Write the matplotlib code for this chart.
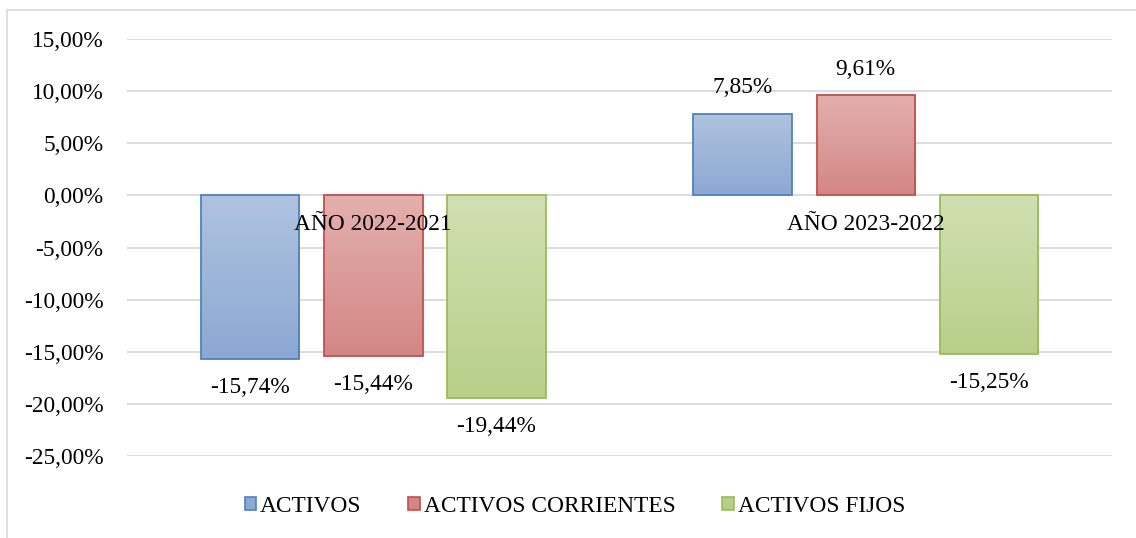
import numpy as np
import matplotlib.pyplot as plt
from matplotlib.colors import LinearSegmentedColormap
from matplotlib.patches import Rectangle, Patch

plt.rcParams['font.family'] = ['Liberation Serif', 'DejaVu Serif']

# data
periodos = ["AÑO 2022-2021", "AÑO 2023-2022"]
series = ["ACTIVOS", "ACTIVOS CORRIENTES", "ACTIVOS FIJOS"]
activos = [-15.74, 7.85]
corrientes = [-15.44, 9.61]
fijos = [-19.44, -15.25]
yticks = [-25, -20, -15, -10, -5, 0, 5, 10, 15]

valores = [activos, corrientes, fijos]
edge_cols = ["#4f81bd", "#c0504d", "#9bbb59"]
grad_cols = [("#b0c3e0", "#8ca8d3"), ("#e3b0ae", "#d38785"), ("#d0e0b2", "#b8cf8a")]
FS = 16.8

def fmt(v):
    return f"{v:.2f}%".replace(".", ",")

fig = plt.figure(figsize=(11.36, 5.38), dpi=100)
ax = fig.add_axes([127/1136, 1-456/538, (1112-127)/1136, (456-39)/538])

# light chart frame like excel
fig.patches.append(Rectangle((7/1136, -0.01), 1.1, 1-10/538+0.01, transform=fig.transFigure,
                             fill=False, edgecolor="#d9d9d9", lw=1.2, zorder=0))

x = np.arange(len(periodos))
width = 0.2
step = 0.25
for i, (vals, ec, gc) in enumerate(zip(valores, edge_cols, grad_cols)):
    bars = ax.bar(x + (i - 1) * step, vals, width, facecolor="none", edgecolor=ec,
                  linewidth=1.3, zorder=3, label=series[i])
    cmap = LinearSegmentedColormap.from_list("g%d" % i, [gc[0], gc[1]])
    for b, v in zip(bars, vals):
        x0, y0 = b.get_x(), b.get_y()
        w, h = b.get_width(), b.get_height()
        grad = np.linspace(0, 1, 100).reshape(-1, 1)
        top, bot = max(y0, y0 + h), min(y0, y0 + h)
        im = ax.imshow(grad, cmap=cmap, aspect="auto", extent=(x0, x0 + w, bot, top),
                       zorder=2, origin="upper")
        im.set_clip_path(b)
        off = -28 if v < 0 else 26
        ax.annotate(fmt(v), (x0 + w / 2, v), xytext=(0, off), textcoords="offset pixels",
                    ha="center", va="center", fontsize=FS, zorder=5)

for xi, p in zip(x, periodos):
    ax.annotate(p, (xi, 0), xytext=(0, -29), textcoords="offset pixels",
                ha="center", va="center", fontsize=FS, zorder=6)

ax.set_xlim(-0.5, 1.5)
ax.set_ylim(-25, 15)
ax.set_yticks(yticks)
ax.set_yticklabels([fmt(t) for t in yticks], fontsize=FS)
ax.set_xticks([])
ax.tick_params(axis="y", length=0, pad=17)
ax.grid(axis="y", color="#d9d9d9", lw=1.3, zorder=0)
ax.set_axisbelow(True)
for s in ax.spines.values():
    s.set_visible(False)

handles = [Patch(facecolor=gc[1], edgecolor=ec, lw=1.2) for ec, gc in zip(edge_cols, grad_cols)]
fig.legend(handles, series, loc="center", bbox_to_anchor=(575/1136, 1-506/538), ncol=3,
           frameon=False, fontsize=FS, handlelength=0.5, handleheight=0.5,
           handletextpad=0.17, columnspacing=2.0)

fig.savefig("out.png", dpi=100)
